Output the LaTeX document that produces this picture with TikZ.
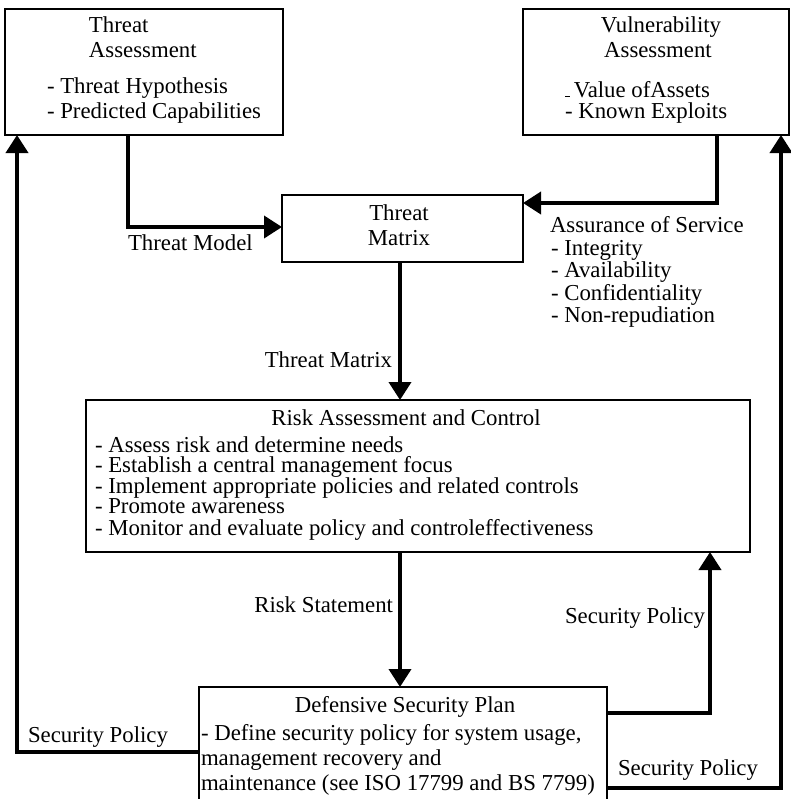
\documentclass[tikz,border=0pt]{standalone}
\usepackage{fontspec}
\setmainfont{Liberation Serif}
\usetikzlibrary{arrows.meta,calc}
\begin{document}
\begin{tikzpicture}[x=0.5pt,y=-0.5pt,
  font=\fontsize{11.4pt}{13pt}\selectfont,
  box/.style={draw=black,line width=0.75pt,rectangle,inner sep=0pt,outer sep=0pt},
  txt/.style={inner sep=0pt,outer sep=0pt,anchor=base west},
  ctxt/.style={inner sep=0pt,outer sep=0pt,anchor=base},
  rtxt/.style={inner sep=0pt,outer sep=0pt,anchor=base east},
  flow/.style={line width=1.9pt,-{Triangle[length=9pt,width=11pt]}},
]
\fill[white] (0,0) rectangle (791,799);
\useasboundingbox (0,0) rectangle (791,799);
\clip (0,0) rectangle (791,799);

% boxes
\node[box,minimum width=139pt,minimum height=63pt] (ta) at (144,72) {};
\node[box,minimum width=133pt,minimum height=63pt] (va) at (656,72) {};
\node[box,minimum width=120.5pt,minimum height=33.5pt] (tm) at (402.5,228.5) {};
\node[box,minimum width=332pt,minimum height=76pt] (rac) at (418,476) {};
\node[box,minimum width=204pt,minimum height=57.5pt] (dsp) at (403,744.5) {};

% Threat Assessment
\node[txt] (taA) at (89,32) {Threat};
\node[txt] (taB) at (89,57) {Assessment};
\node[txt] (taC) at (47,93) {- Threat Hypothesis};
\node[txt] (taD) at (47,118) {- Predicted Capabilities};

% Vulnerability Assessment
\node[ctxt] (vaA) at (661,32) {Vulnerability};
\node[ctxt] (vaB) at (658,57) {Assessment};
\node[txt] (vaC) at (565,97) {\rule{2.6pt}{0.5pt}\hspace{1.8pt}Value ofAssets};
\node[txt] (vaD) at (565,118) {- Known Exploits};

% Threat Matrix
\node[ctxt] (tmA) at (399,220) {Threat};
\node[ctxt] (tmB) at (399,245) {Matrix};

% Risk Assessment and Control
\node[ctxt] (racT) at (406,425) {Risk Assessment and Control};
\node[txt] (rac1) at (95,452) {- Assess risk and determine needs};
\node[txt] (rac2) at (95,472) {- Establish a central management focus};
\node[txt] (rac3) at (95,493) {- Implement appropriate policies and related controls};
\node[txt] (rac4) at (95,513) {- Promote awareness};
\node[txt] (rac5) at (95,535) {- Monitor and evaluate policy and controleffectiveness};

% Defensive Security Plan
\node[ctxt] (dspT) at (405,712) {Defensive Security Plan};
\node[txt] (dsp1) at (201,740) {- Define security policy for system usage,};
\node[txt] (dsp2) at (201,765) {management recovery and};
\node[txt] (dsp3) at (201,790) {maintenance (see ISO 17799 and BS 7799)};

% connector labels
\node[txt] (lModel) at (128,250) {Threat Model};
\node[rtxt] (lMatrix) at (392,367) {Threat Matrix};
\node[txt] (lAos) at (550,232) {Assurance of Service};
\node[txt] (lAos1) at (551,255) {- Integrity};
\node[txt] (lAos2) at (551,277) {- Availability};
\node[txt] (lAos3) at (551,300) {- Confidentiality};
\node[txt] (lAos4) at (551,322) {- Non-repudiation};
\node[rtxt] (lRisk) at (393,612) {Risk Statement};
\node[txt] (lSpL) at (28,742) {Security Policy};
\node[rtxt] (lSpM) at (705,623) {Security Policy};
\node[txt] (lSpR) at (618,775) {Security Policy};

% connectors
\draw[flow] ($(ta.south west)+(123,0)$) |- ($(tm.north west)+(0,32)$);
\draw[flow] ($(va.south west)+(194,0)$) |- ($(tm.north east)+(0,8)$);
\draw[flow] ($(tm.south west)+(118,0)$) -- ($(rac.north west)+(314,0)$);
\draw[flow] ($(rac.south west)+(314,0)$) -- ($(dsp.north west)+(201,0)$);
\draw[flow] ($(dsp.north west)+(0,65)$) -| ($(ta.south west)+(12,0)$);
\draw[flow] ($(dsp.north east)+(0,26)$) -| ($(rac.south east)+(-40,0)$);
\draw[flow] ($(dsp.north east)+(0,101)$) -| ($(va.south east)+(-8,0)$);
\end{tikzpicture}
\end{document}
